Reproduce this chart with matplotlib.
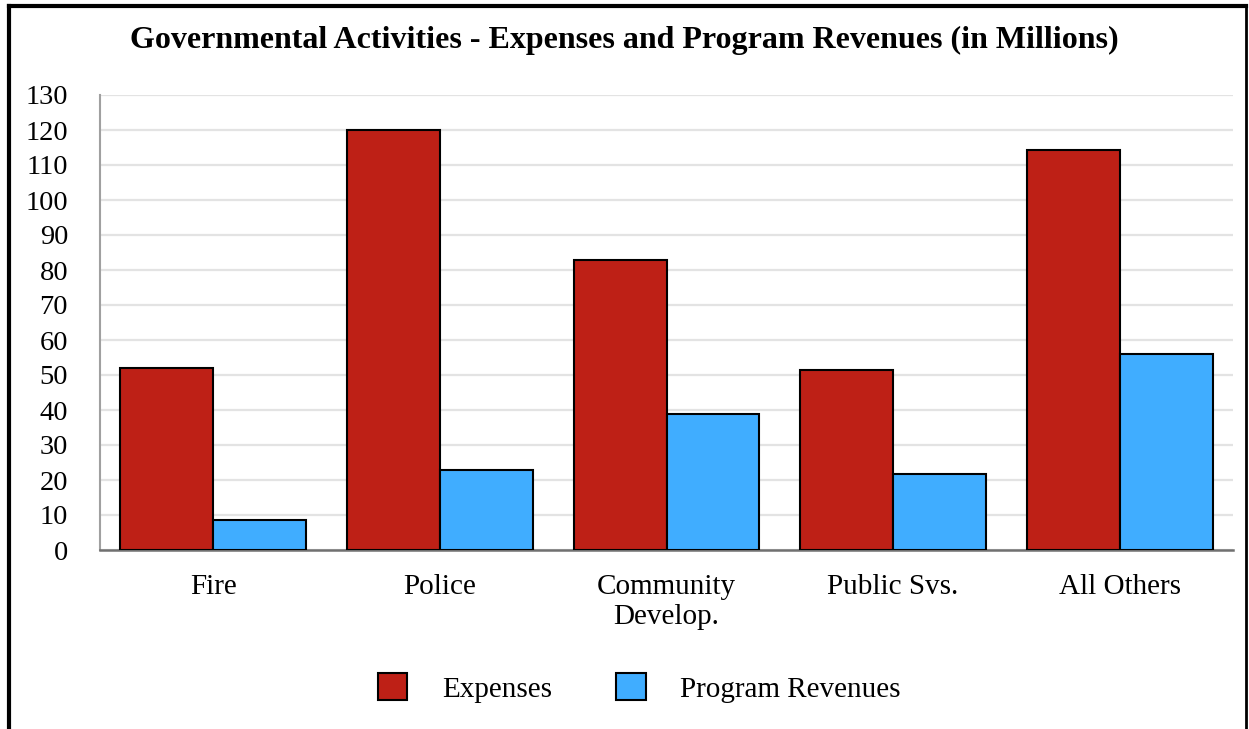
#!/usr/bin/env python3

import numpy as np
import matplotlib
matplotlib.use('Agg')
import matplotlib.pyplot as plt
from matplotlib.lines import Line2D

categories = ['Fire', 'Police', 'Community\nDevelop.', 'Public Svs.', 'All Others']
expenses = [51.9, 119.9, 82.8, 51.4, 114.3]
revenues = [8.5, 22.9, 38.9, 21.7, 55.9]
series_names = ['Expenses', 'Program Revenues']
y_ticks = list(range(0, 131, 10))

RED = '#be2016'
BLUE = '#40adff'

plt.rcParams['font.family'] = ['Liberation Serif', 'DejaVu Serif']

fig = plt.figure(figsize=(12.49, 7.29), dpi=100)
ax = fig.add_axes([100 / 1249, 1 - 550 / 729, 1133 / 1249, 455 / 729])

x = np.arange(len(categories))
w = 0.41
ax.bar(x - w / 2, expenses, w, color=RED, edgecolor='black', linewidth=1.5,
       label=series_names[0], zorder=3)
ax.bar(x + w / 2, revenues, w, color=BLUE, edgecolor='black', linewidth=1.5,
       label=series_names[1], zorder=3)

ax.set_xlim(-0.5, len(categories) - 0.5)
ax.set_ylim(0, 130)
ax.set_yticks(y_ticks)
ax.set_yticklabels([str(v) for v in y_ticks], fontsize=20.5)
ax.set_xticks(x)
ax.set_xticklabels(categories, fontsize=21, linespacing=1.2)
ax.tick_params(axis='x', length=0, pad=17)
ax.tick_params(axis='y', length=0, pad=23)
ax.grid(axis='y', color='#e3e3e3', linewidth=1.6, zorder=0)
ax.set_axisbelow(True)

for s in ['top', 'right']:
    ax.spines[s].set_visible(False)
ax.spines['left'].set_color('#a0a0a0')
ax.spines['left'].set_linewidth(1.5)
ax.spines['bottom'].set_color('#707070')
ax.spines['bottom'].set_linewidth(1.8)

fig.text(0.5, 1 - 40 / 729, 'Governmental Activities - Expenses and Program Revenues (in Millions)',
         ha='center', va='center', fontsize=23, fontweight='bold')

leg = fig.legend(loc='center', bbox_to_anchor=(639.5 / 1249, 1 - 688 / 729), ncol=2,
                 frameon=False, fontsize=21, handlelength=1.0, handleheight=1.0,
                 handletextpad=1.2, columnspacing=2.2)
for h in leg.legend_handles:
    h.set_linewidth(1.5)

# outer frame
fig.add_artist(Line2D([9 / 1249, 1246 / 1249], [1 - 6 / 729, 1 - 6 / 729],
                      transform=fig.transFigure, color='black', linewidth=3))
fig.add_artist(Line2D([9 / 1249, 9 / 1249], [0, 1 - 6 / 729],
                      transform=fig.transFigure, color='black', linewidth=3))
fig.add_artist(Line2D([1246 / 1249, 1246 / 1249], [0, 1 - 6 / 729],
                      transform=fig.transFigure, color='black', linewidth=2))

fig.savefig('out.png', dpi=100)
plt.close(fig)
